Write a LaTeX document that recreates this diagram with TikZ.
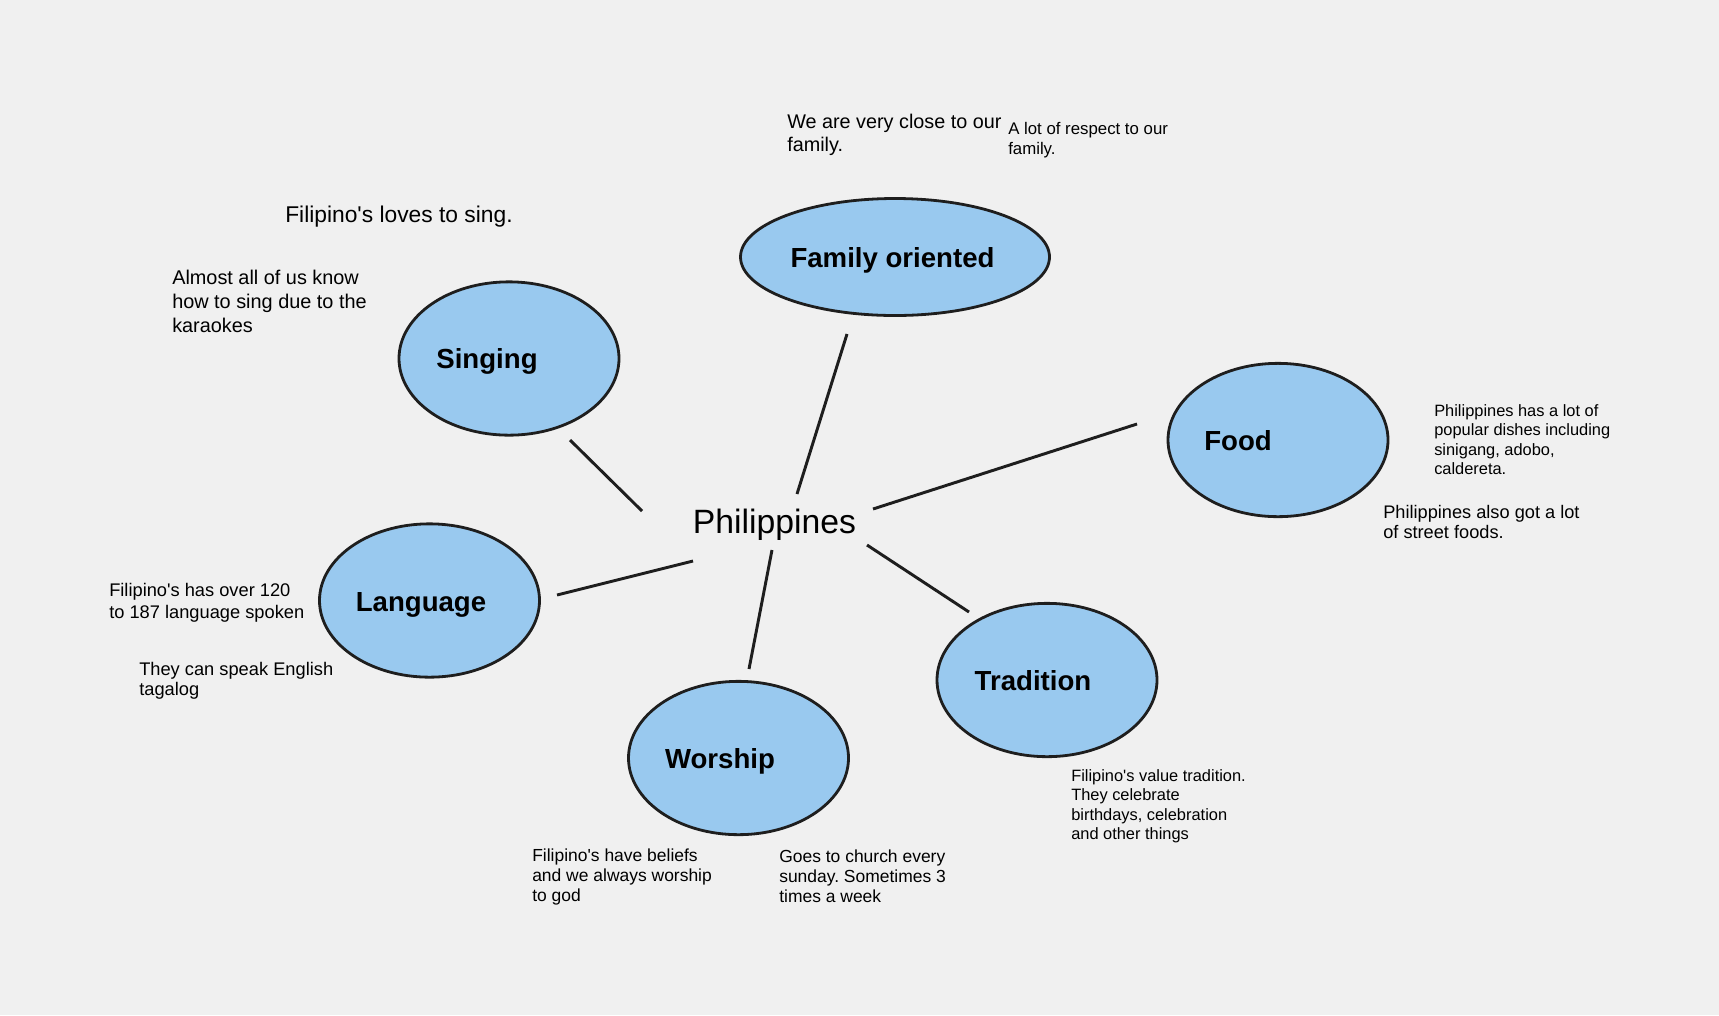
\documentclass[tikz,border=0pt]{standalone}
\usepackage{fontspec}
\setmainfont{Liberation Sans}
\usetikzlibrary{shapes.geometric}
\frenchspacing
\definecolor{paper}{HTML}{F0F0F0}
\definecolor{bubble}{HTML}{99C9EF}
\definecolor{ink}{HTML}{1E1E1E}
\newcommand{\notesize}[2]{\fontsize{#1}{#2}\selectfont}
\newcommand{\ap}{\textquotesingle}
\tikzset{
  topic/.style={ellipse, draw=ink, line width=2.1pt, fill=bubble,
    minimum width=165pt, minimum height=115pt, inner sep=0pt},
  topiclabel/.style={anchor=base, inner sep=0pt,
    font=\notesize{20.7}{24}\bfseries},
  note/.style={anchor=north west, align=left, inner sep=0pt},
  spoke/.style={draw=ink, line width=2.2pt},
}
\begin{document}
\begin{tikzpicture}[x=0.75pt, y=-0.75pt]
    \fill[paper] (0,0) rectangle (1719,1015);
    \useasboundingbox (0,0) rectangle (1719,1015);
    % centre word
    \node[anchor=base, inner sep=0pt, font=\notesize{25.3}{30}] (phil) at (774.5,533) {Philippines};
    % the six bubbles
    \node[topic, minimum width=231.75pt, minimum height=87.75pt] (family) at (895,257) {};
    \node[topic] (singing) at (509,358.5) {};
    \node[topic] (food) at (1278,440) {};
    \node[topic] (language) at (429.5,600.5) {};
    \node[topic] (worship) at (738.5,758) {};
    \node[topic] (tradition) at (1047,680) {};
    \node[topiclabel] (familytxt) at ([shift={(-2.5,10)}]family.center) {Family oriented};
    \node[topiclabel] (singingtxt) at ([shift={(-22,10)}]singing.center) {Singing};
    \node[topiclabel] (foodtxt) at ([shift={(-40,10)}]food.center) {Food};
    \node[topiclabel] (languagetxt) at ([shift={(-8.5,10.5)}]language.center) {Language};
    \node[topiclabel] (worshiptxt) at ([shift={(-18.5,10.5)}]worship.center) {Worship};
    \node[topiclabel] (traditiontxt) at ([shift={(-14,10.5)}]tradition.center) {Tradition};
    % spokes, with a gap at both ends
    \coordinate (famA) at (797,494);  \coordinate (famB) at (847,334);
    \coordinate (singA) at (642,511); \coordinate (singB) at (570,440);
    \coordinate (foodA) at (873,509); \coordinate (foodB) at (1137,424);
    \coordinate (langA) at (693,561); \coordinate (langB) at (557,595);
    \coordinate (worA) at (772,550);  \coordinate (worB) at (749,669);
    \coordinate (tradA) at (867,545); \coordinate (tradB) at (969,612);
    \foreach \a/\b in {famA/famB, singA/singB, foodA/foodB, langA/langB, worA/worB, tradA/tradB}
        \draw[spoke] (\a) -- (\b);
    % notes
    \node[note, font=\notesize{14.85}{17.25}] (famnote1) at (787,113.7) {We are very close to our\\family.};
    \node[note, font=\notesize{12.6}{15}] (famnote2) at (1008,121.9) {A lot of respect to our\\family.};
    \node[note, font=\notesize{17.1}{20}] (singnote1) at (285,205.6) {Filipino\ap s loves to sing.};
    \node[note, font=\notesize{14.9}{18}] (singnote2) at (172,269.7) {Almost all of us know\\how to sing due to the\\karaokes};
    \node[note, font=\notesize{12.3}{14.6}] (foodnote1) at (1434,404.2) {Philippines has a lot of\\popular dishes including\\sinigang, adobo,\\caldereta.};
    \node[note, font=\notesize{13.65}{15.4}] (foodnote2) at (1383,504.9) {Philippines also got a lot\\of street foods.};
    \node[note, font=\notesize{13.7}{16.5}] (langnote1) at (109,582.8) {Filipino\ap s has over 120\\to 187 language spoken};
    \node[note, font=\notesize{13.7}{15}] (langnote2) at (139,661.8) {They can speak English\\tagalog};
    \node[note, font=\notesize{13.1}{15}] (wornote1) at (532,848.4) {Filipino\ap s have beliefs\\and we always worship\\to god};
    \node[note, font=\notesize{13.1}{15}] (wornote2) at (779,849.4) {Goes to church every\\sunday. Sometimes 3\\times a week};
    \node[note, font=\notesize{12.3}{14.6}] (tradnote) at (1071,769.2) {Filipino\ap s value tradition.\\They celebrate\\birthdays, celebration\\and other things};
\end{tikzpicture}
\end{document}
